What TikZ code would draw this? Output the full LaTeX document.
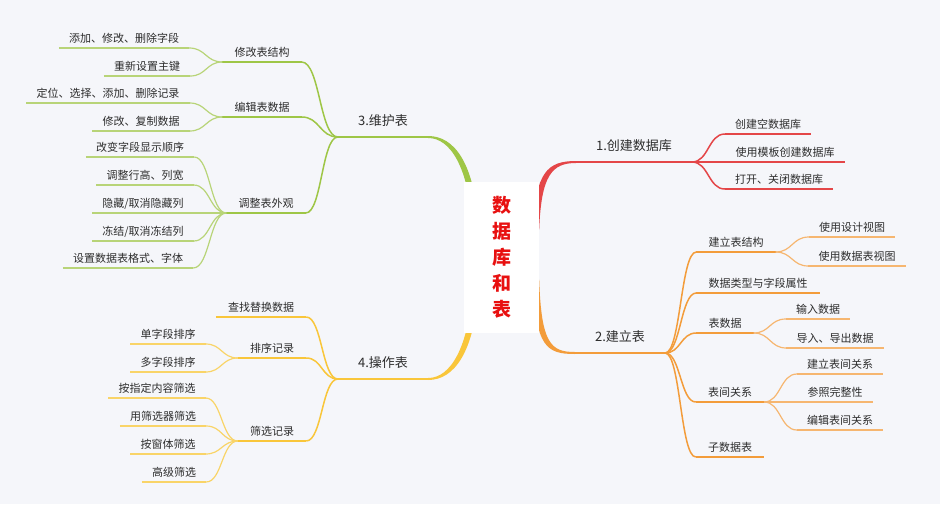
\documentclass[tikz,border=0pt]{standalone}
\usepackage{fontspec}
\setmainfont{Noto Sans CJK SC}
\usetikzlibrary{calc}
\pgfdeclarelayer{back}
\pgfsetlayers{back,main}
\definecolor{bgc}{RGB}{245,246,250}
\definecolor{cred}{RGB}{228,70,72}
\definecolor{corg}{RGB}{243,156,58}
\definecolor{corgl}{RGB}{246,182,112}
\definecolor{cgrn}{RGB}{158,198,70}
\definecolor{cgrnl}{RGB}{184,212,120}
\definecolor{cyel}{RGB}{249,198,58}
\definecolor{cyell}{RGB}{249,212,104}
\definecolor{txt}{RGB}{45,45,45}
\definecolor{rootred}{RGB}{232,16,16}
\begin{document}
\begin{tikzpicture}[x=1pt,y=-1pt,
  lvla/.style={anchor=south, font=\fontsize{13}{15}\selectfont, text=txt, inner xsep=20pt, inner ysep=8.5pt, text height=10.4pt, text depth=2.6pt},
  lvlb/.style={anchor=south, font=\fontsize{11}{13}\selectfont, text=txt, inner xsep=12pt, inner ysep=3.5pt, text height=8.8pt, text depth=2.2pt},
  lvlc/.style={lvlb, inner xsep=10pt},
  mm/.style={to path={let \p1=(\tikztostart), \p2=(\tikztotarget) in .. controls ({0.5*\x1+0.5*\x2},\y1) and ({0.5*\x1+0.5*\x2},\y2) .. (\tikztotarget)}},
  ula/.style={line width=2pt},
  ulb/.style={line width=1.5pt},
  ulc/.style={line width=1.2pt}
]
\useasboundingbox (0,0) rectangle (940,504);
% root
\node[fill=white, minimum width=75pt, minimum height=151pt, inner sep=0pt, text=rootred, font=\fontsize{19}{26}\selectfont\bfseries, align=center] (root) at (501.5,257.5) {数\\据\\库\\和\\表};
% right side
\node[lvla] (b1) at (634,162) {1.创建数据库};
\node[lvlc] (c11) at (768,134) {创建空数据库};
\node[lvlc] (c12) at (785,162) {使用模板创建数据库};
\node[lvlc] (c13) at (779,189) {打开、关闭数据库};
\node[lvla] (b2) at (620,353) {2.建立表};
\node[lvlb] (c21) at (736,252) {建立表结构};
\node[lvlc] (d211) at (852,237) {使用设计视图};
\node[lvlc] (d212) at (857,266) {使用数据表视图};
\node[lvlb] (c22) at (758,293) {数据类型与字段属性};
\node[lvlb] (c23) at (725,333) {表数据};
\node[lvlc] (d231) at (818,319) {输入数据};
\node[lvlc] (d232) at (835,348) {导入、导出数据};
\node[lvlb] (c24) at (730,402) {表间关系};
\node[lvlc] (d241) at (840,374) {建立表间关系};
\node[lvlc] (d242) at (835,402) {参照完整性};
\node[lvlc] (d243) at (840,430) {编辑表间关系};
\node[lvlb] (c25) at (730,457) {子数据表};
% left side
\node[lvla] (b3) at (383,137) {3.维护表};
\node[lvlb] (c31) at (262,62) {修改表结构};
\node[lvlc] (d311) at (124,48) {添加、修改、删除字段};
\node[lvlc] (d312) at (147,76) {重新设置主键};
\node[lvlb] (c32) at (262,117) {编辑表数据};
\node[lvlc] (d321) at (108,103) {定位、选择、添加、删除记录};
\node[lvlc] (d322) at (141,131) {修改、复制数据};
\node[lvlb] (c33) at (266,213) {调整表外观};
\node[lvlc] (d331) at (140,157) {改变字段显示顺序};
\node[lvlc] (d332) at (145,185) {调整行高、列宽};
\node[lvlc] (d333) at (143,213) {隐藏/取消隐藏列};
\node[lvlc] (d334) at (143,241) {冻结/取消冻结列};
\node[lvlc] (d335) at (128,268) {设置数据表格式、字体};
\node[lvla] (b4) at (383,379) {4.操作表};
\node[lvlb] (c41) at (261,317) {查找替换数据};
\node[lvlb] (c42) at (272,358) {排序记录};
\node[lvlc] (d421) at (168,344) {单字段排序};
\node[lvlc] (d422) at (168,372) {多字段排序};
\node[lvlb] (c43) at (272,441) {筛选记录};
\node[lvlc] (d431) at (157,398) {按指定内容筛选};
\node[lvlc] (d432) at (163,426) {用筛选器筛选};
\node[lvlc] (d433) at (168,454) {按窗体筛选};
\node[lvlc] (d434) at (174,482) {高级筛选};

\begin{pgfonlayer}{back}
\fill[bgc] (0,0) rectangle (940,504);
% tapered main branches
\fill[cred] ($(root.east)+(-6,-28)$) .. controls ($(root.east)+(-4,-86)$) and ($(b1.south west)+(-28,-1)$) .. ($(b1.south west)+(0,-1)$)
  -- ($(b1.south west)+(0,1)$) .. controls ($(b1.south west)+(-24,1)$) and ($(root.east)+(2,-82)$) .. ($(root.east)+(0,-28)$) -- cycle;
\fill[corg] ($(root.east)+(-6,22)$) .. controls ($(root.east)+(-4,90)$) and ($(b2.south west)+(-28,1)$) .. ($(b2.south west)+(0,1)$)
  -- ($(b2.south west)+(0,-1)$) .. controls ($(b2.south west)+(-24,-1)$) and ($(root.east)+(2,86)$) .. ($(root.east)+(0,22)$) -- cycle;
\fill[cgrn] ($(root.west)+(15,-28)$) .. controls ($(root.west)+(11,-95)$) and ($(b3.south east)+(26,-1)$) .. ($(b3.south east)+(0,-1)$)
  -- ($(b3.south east)+(0,1)$) .. controls ($(b3.south east)+(22,1)$) and ($(root.west)+(5,-91)$) .. ($(root.west)+(9,-28)$) -- cycle;
\fill[cyel] ($(root.west)+(15,28)$) .. controls ($(root.west)+(11,95)$) and ($(b4.south east)+(26,1)$) .. ($(b4.south east)+(0,1)$)
  -- ($(b4.south east)+(0,-1)$) .. controls ($(b4.south east)+(22,-1)$) and ($(root.west)+(5,91)$) .. ($(root.west)+(9,28)$) -- cycle;
\end{pgfonlayer}

% underlines
\draw[cred, ula] (b1.south west) -- (b1.south east);
\foreach \nd in {c11,c12,c13} \draw[cred, ulb] (\nd.south west) -- (\nd.south east);
\draw[corg, ula] (b2.south west) -- (b2.south east);
\foreach \nd in {c21,c22,c23,c24,c25} \draw[corg, ulb] (\nd.south west) -- (\nd.south east);
\foreach \nd in {d211,d212,d231,d232,d241,d242,d243} \draw[corgl, ulc] (\nd.south west) -- (\nd.south east);
\draw[cgrn, ula] (b3.south west) -- (b3.south east);
\foreach \nd in {c31,c32,c33} \draw[cgrn, ulb] (\nd.south west) -- (\nd.south east);
\foreach \nd in {d311,d312,d321,d322,d331,d332,d333,d334,d335} \draw[cgrnl, ulc] (\nd.south west) -- (\nd.south east);
\draw[cyel, ula] (b4.south west) -- (b4.south east);
\foreach \nd in {c41,c42,c43} \draw[cyel, ulb] (\nd.south west) -- (\nd.south east);
\foreach \nd in {d421,d422,d431,d432,d433,d434} \draw[cyell, ulc] (\nd.south west) -- (\nd.south east);

% connectors
\foreach \nd in {c11,c12,c13} \draw[cred, ulb] (b1.south east) to[mm] (\nd.south west);
\foreach \nd in {c21,c22,c23,c24,c25} \draw[corg, ulb] (b2.south east) to[mm] (\nd.south west);
\foreach \nd in {d211,d212} \draw[corgl, ulc] (c21.south east) to[mm] (\nd.south west);
\foreach \nd in {d231,d232} \draw[corgl, ulc] (c23.south east) to[mm] (\nd.south west);
\foreach \nd in {d241,d242,d243} \draw[corgl, ulc] (c24.south east) to[mm] (\nd.south west);
\foreach \nd in {c31,c32,c33} \draw[cgrn, ulb] (b3.south west) to[mm] (\nd.south east);
\foreach \nd in {d311,d312} \draw[cgrnl, ulc] (c31.south west) to[mm] (\nd.south east);
\foreach \nd in {d321,d322} \draw[cgrnl, ulc] (c32.south west) to[mm] (\nd.south east);
\foreach \nd in {d331,d332,d333,d334,d335} \draw[cgrnl, ulc] (c33.south west) to[mm] (\nd.south east);
\foreach \nd in {c41,c42,c43} \draw[cyel, ulb] (b4.south west) to[mm] (\nd.south east);
\foreach \nd in {d421,d422} \draw[cyell, ulc] (c42.south west) to[mm] (\nd.south east);
\foreach \nd in {d431,d432,d433,d434} \draw[cyell, ulc] (c43.south west) to[mm] (\nd.south east);
\end{tikzpicture}
\end{document}
